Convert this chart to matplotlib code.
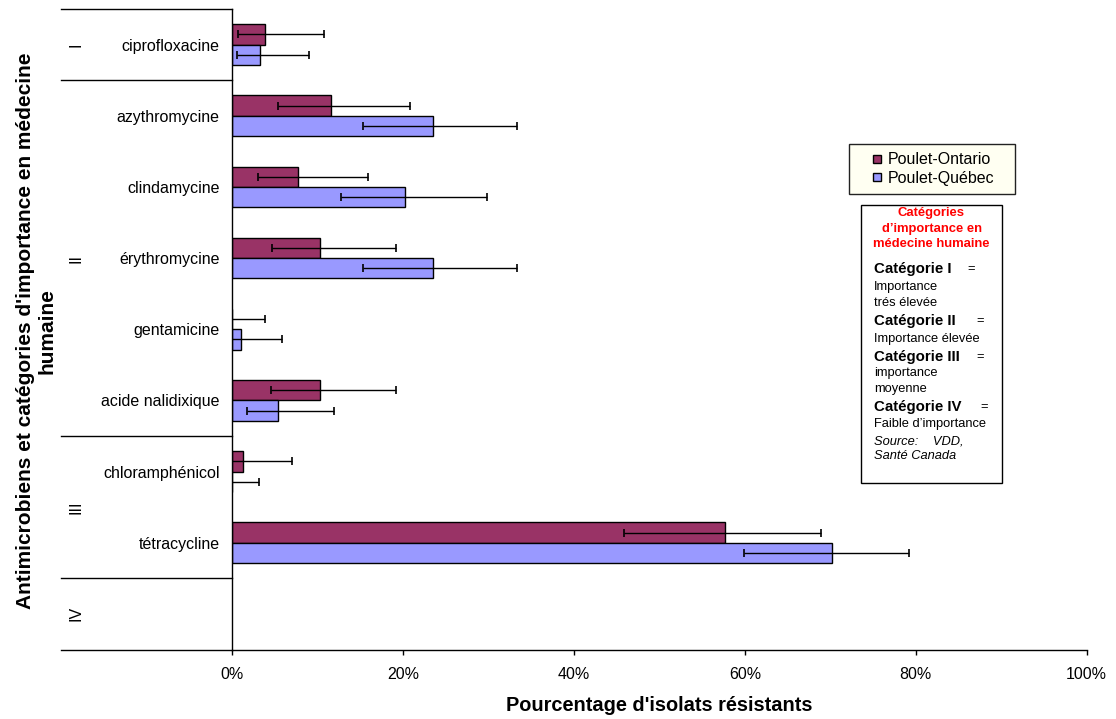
import numpy as np
import matplotlib
matplotlib.use('Agg')
import matplotlib.pyplot as plt
from matplotlib.lines import Line2D
from matplotlib.patches import Rectangle
from matplotlib.transforms import blended_transform_factory

plt.rcParams['font.family'] = ['Liberation Sans', 'DejaVu Sans']

# antimicrobials, top to bottom
drugs = ['ciprofloxacine', 'azythromycine', 'clindamycine', 'érythromycine',
         'gentamicine', 'acide nalidixique', 'chloramphénicol', 'tétracycline']

# % resistant isolates and 95% confidence limits
ontario = [3.8, 11.5, 7.7, 10.3, 0.0, 10.3, 1.25, 57.7]
ontario_lo = [0.7, 5.4, 3.0, 4.6, 0.0, 4.5, 0.0, 45.9]
ontario_hi = [10.7, 20.8, 15.9, 19.2, 3.8, 19.2, 7.0, 68.9]

quebec = [3.2, 23.45, 20.2, 23.45, 1.0, 5.3, 0.0, 70.2]
quebec_lo = [0.55, 15.3, 12.7, 15.3, 0.0, 1.7, 0.0, 59.9]
quebec_hi = [9.0, 33.3, 29.8, 33.3, 5.8, 11.9, 3.1, 79.2]

series = ['Poulet-Ontario', 'Poulet-Québec']
colors = ['#993366', '#9999FF']

# importance categories: label, first and last slot
groups = [('I', 0, 0), ('II', 1, 5), ('III', 6, 7), ('IV', 8, 8)]

xticks = [0, 20, 40, 60, 80, 100]
xticklabels = ['0%', '20%', '40%', '60%', '80%', '100%']

W, H = 1116, 719
fig = plt.figure(figsize=(W / 100, H / 100), dpi=100)


def fx(px):
    return px / W


def fy(py):
    return 1 - py / H


ax = fig.add_axes([fx(232.3), fy(649.5), fx(1086.7) - fx(232.3), fy(9) - fy(649.5)])

y = np.arange(len(drugs))
bh = 0.285

ont = np.array(ontario)
que = np.array(quebec)
ax.barh(y - bh / 2, ont, height=bh, color=colors[0], edgecolor='black', linewidth=1, zorder=2)
ax.barh(y + bh / 2, que, height=bh, color=colors[1], edgecolor='black', linewidth=1, zorder=2)

ax.errorbar(ont, y - bh / 2,
            xerr=[ont - np.array(ontario_lo), np.array(ontario_hi) - ont],
            fmt='none', ecolor='black', elinewidth=1, capsize=2.7, capthick=1.2, zorder=3)
ax.errorbar(que, y + bh / 2,
            xerr=[que - np.array(quebec_lo), np.array(quebec_hi) - que],
            fmt='none', ecolor='black', elinewidth=1, capsize=2.7, capthick=1.2, zorder=3)

ax.set_xlim(0, 100)
ax.set_ylim(8.5, -0.5)
ax.set_xticks(xticks)
ax.set_xticklabels(xticklabels, fontsize=11.5)
ax.set_yticks(y)
ax.set_yticklabels(drugs, fontsize=11.5)
ax.tick_params(axis='x', direction='out', length=3.5, width=1, pad=9)
ax.tick_params(axis='y', length=0, pad=9)
ax.spines['top'].set_visible(False)
ax.spines['right'].set_visible(False)
for s in ['left', 'bottom']:
    ax.spines[s].set_linewidth(1)

# category separators on the left
tr = blended_transform_factory(ax.transAxes, ax.transData)
x0 = (61 - 232.3) / (1086.7 - 232.3)
for b in [-0.5, 0.5, 5.5, 7.5, 8.5]:
    ax.plot([x0, 0], [b, b], color='black', lw=1, transform=tr, clip_on=False)
for name, a, b in groups:
    ax.text(-0.1833, (a + b) / 2, name, transform=tr, rotation=90,
            ha='center', va='center', fontsize=11.5)

ax.set_xlabel("Pourcentage d'isolats résistants", fontsize=14.4, fontweight='bold')
ax.xaxis.set_label_coords(0.5, -0.073)
ax.set_ylabel("Antimicrobiens et catégories d'importance en médecine\nhumaine",
              fontsize=15, fontweight='bold', linespacing=1.15)
ax.yaxis.set_label_coords(-0.2063, 0.497)

# legend: own frame, entries placed inside it
fig.patches.append(Rectangle((fx(849), fy(194)), fx(1015) - fx(849), fy(144) - fy(194),
                             transform=fig.transFigure, facecolor='#FFFFF2',
                             edgecolor='#222222', lw=1))
handles = [Line2D([], [], marker='s', ls='none', markersize=6, markerfacecolor=c,
                  markeredgecolor='black', markeredgewidth=1) for c in colors]
fig.legend(handles, series, loc='center left', bbox_to_anchor=(fx(867), fy(169)),
           fontsize=11.5, frameon=False, handlelength=1.2, handletextpad=0.1,
           labelspacing=0.2, borderpad=0, borderaxespad=0)

# category key box
fig.patches.append(Rectangle((fx(860.7), fy(483.3)), fx(1002.3) - fx(860.7), fy(205) - fy(483.3),
                             transform=fig.transFigure, facecolor='white',
                             edgecolor='black', lw=1))
for txt, py in [('Catégories', 213), ("d’importance en", 229), ('médecine humaine', 244)]:
    fig.text(fx(931.5), fy(py), txt, color='red', fontweight='bold', fontsize=9.4,
             ha='center', va='center')

key = [('Catégorie I', 269, 967.7),
       ('Catégorie II', 321, 976.7),
       ('Catégorie III', 357, 976.7),
       ('Catégorie IV', 407, 980)]
for txt, py, ex in key:
    fig.text(fx(874), fy(py), txt, fontweight='bold', fontsize=10.8, va='center')
    fig.text(fx(ex), fy(py), '=', fontsize=9.3, va='center')

body = [('Importance', 287), ('trés élevée', 303), ('Importance élevée', 339),
        ('importance', 373), ('moyenne', 389), ("Faible d’importance", 424)]
for txt, py in body:
    fig.text(fx(874), fy(py), txt, fontsize=9.3, va='center')
fig.text(fx(874), fy(441), 'Source:    VDD,', fontsize=9.3, style='italic', va='center')
fig.text(fx(874), fy(456), 'Santé Canada', fontsize=9.3, style='italic', va='center')

fig.savefig('out.png', dpi=100)
